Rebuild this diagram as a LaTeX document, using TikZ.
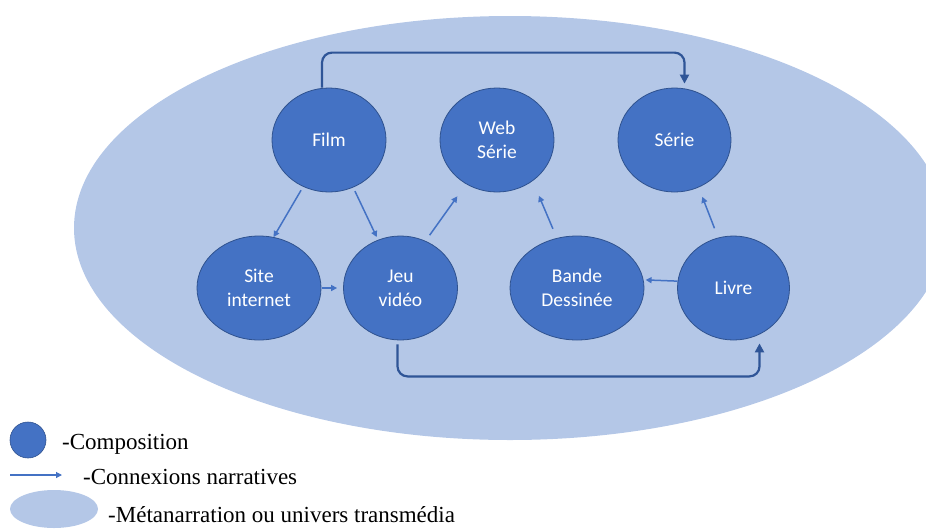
\documentclass[tikz,border=0pt]{standalone}
\usepackage{fontspec}
\setmainfont{Liberation Serif}
\newfontfamily\carlito{Carlito}
\usetikzlibrary{arrows.meta,shapes.geometric}
\definecolor{bgell}{HTML}{B4C7E7}
\definecolor{nodeblue}{HTML}{4472C4}
\definecolor{nodeedge}{HTML}{2F528F}
\definecolor{connblue}{HTML}{2F5597}
\begin{document}
\begin{tikzpicture}[x=1pt,y=-1pt,
 comp/.style={ellipse, fill=nodeblue, draw=nodeedge, line width=0.8pt, minimum height=104pt, inner sep=0pt, text=white, font=\carlito\fontsize{19.5}{24}\selectfont, align=center},
 narr/.style={draw=nodeblue, line width=1.5pt, -{Triangle[length=6pt,width=6pt]}},
 link/.style={draw=connblue, line width=2.2pt, rounded corners=10pt, -{Triangle[length=9pt,width=9pt]}},
 legtext/.style={anchor=base west, inner sep=0pt, font=\fontsize{23}{27}\selectfont}]
\useasboundingbox (0,0) rectangle (926,531);
\begin{scope}
\clip (0,0) rectangle (926,531);
\fill[bgell] (510,228) ellipse [x radius=436pt, y radius=212pt];
\end{scope}
% compositions
\node[comp, minimum width=114pt] (film) at (329,140) {Film};
\node[comp, minimum width=114pt] (web) at (497,140) {Web\\Série};
\node[comp, minimum width=113pt] (serie) at (674.5,140) {Série};
\node[comp, minimum width=124pt] (site) at (259,288) {Site\\internet};
\node[comp, minimum width=114pt] (jeu) at (400.5,288) {Jeu\\vidéo};
\node[comp, minimum width=134pt] (bande) at (577,288) {Bande\\Dessinée};
\node[comp, minimum width=112pt] (livre) at (733.5,288) {Livre};
% narrative connections
\draw[narr, shorten <=4pt] (film.-119) -- (site.74);
\draw[narr, shorten <=4pt, shorten >=3pt] (film.-63) -- (jeu.115);
\draw[narr, shorten <=7pt, shorten >=15pt] (jeu.62) -- (web.-125);
\draw[narr, shorten <=10pt, shorten >=16pt] (bande.112) -- (web.-49);
\draw[narr, shorten <=10pt, shorten >=10pt] (livre.107) -- (serie.-63);
\draw[narr, shorten <=1pt, shorten >=6pt] (site.east) -- (jeu.west);
\draw[narr, shorten >=2pt] (livre.173) -- (bande.7);
% long links
\draw[link, shorten >=4pt] ([xshift=-7pt]film.north) -- ++(0,-35) -| ([xshift=10pt]serie.north);
\draw[link, shorten <=4pt, shorten >=3pt] ([xshift=-3pt]jeu.south) -- ++(0,36) -| ([xshift=26pt]livre.south);
% legend
\node[circle, fill=nodeblue, draw=nodeedge, line width=0.6pt, minimum size=36pt, inner sep=0pt] (legc) at (28,440) {};
\node[legtext] (legct) at (62,449) {-Composition};
\coordinate (la1) at (10,475);
\coordinate (la2) at (62,475);
\draw[narr, line width=1.2pt] (la1) -- (la2);
\node[legtext] (legat) at (83,484) {-Connexions narratives};
\node[ellipse, fill=bgell, minimum width=88pt, minimum height=38pt, inner sep=0pt] (lege) at (54,509) {};
\node[legtext] (leget) at (108,522) {-Métanarration ou univers transmédia};
\end{tikzpicture}
\end{document}
